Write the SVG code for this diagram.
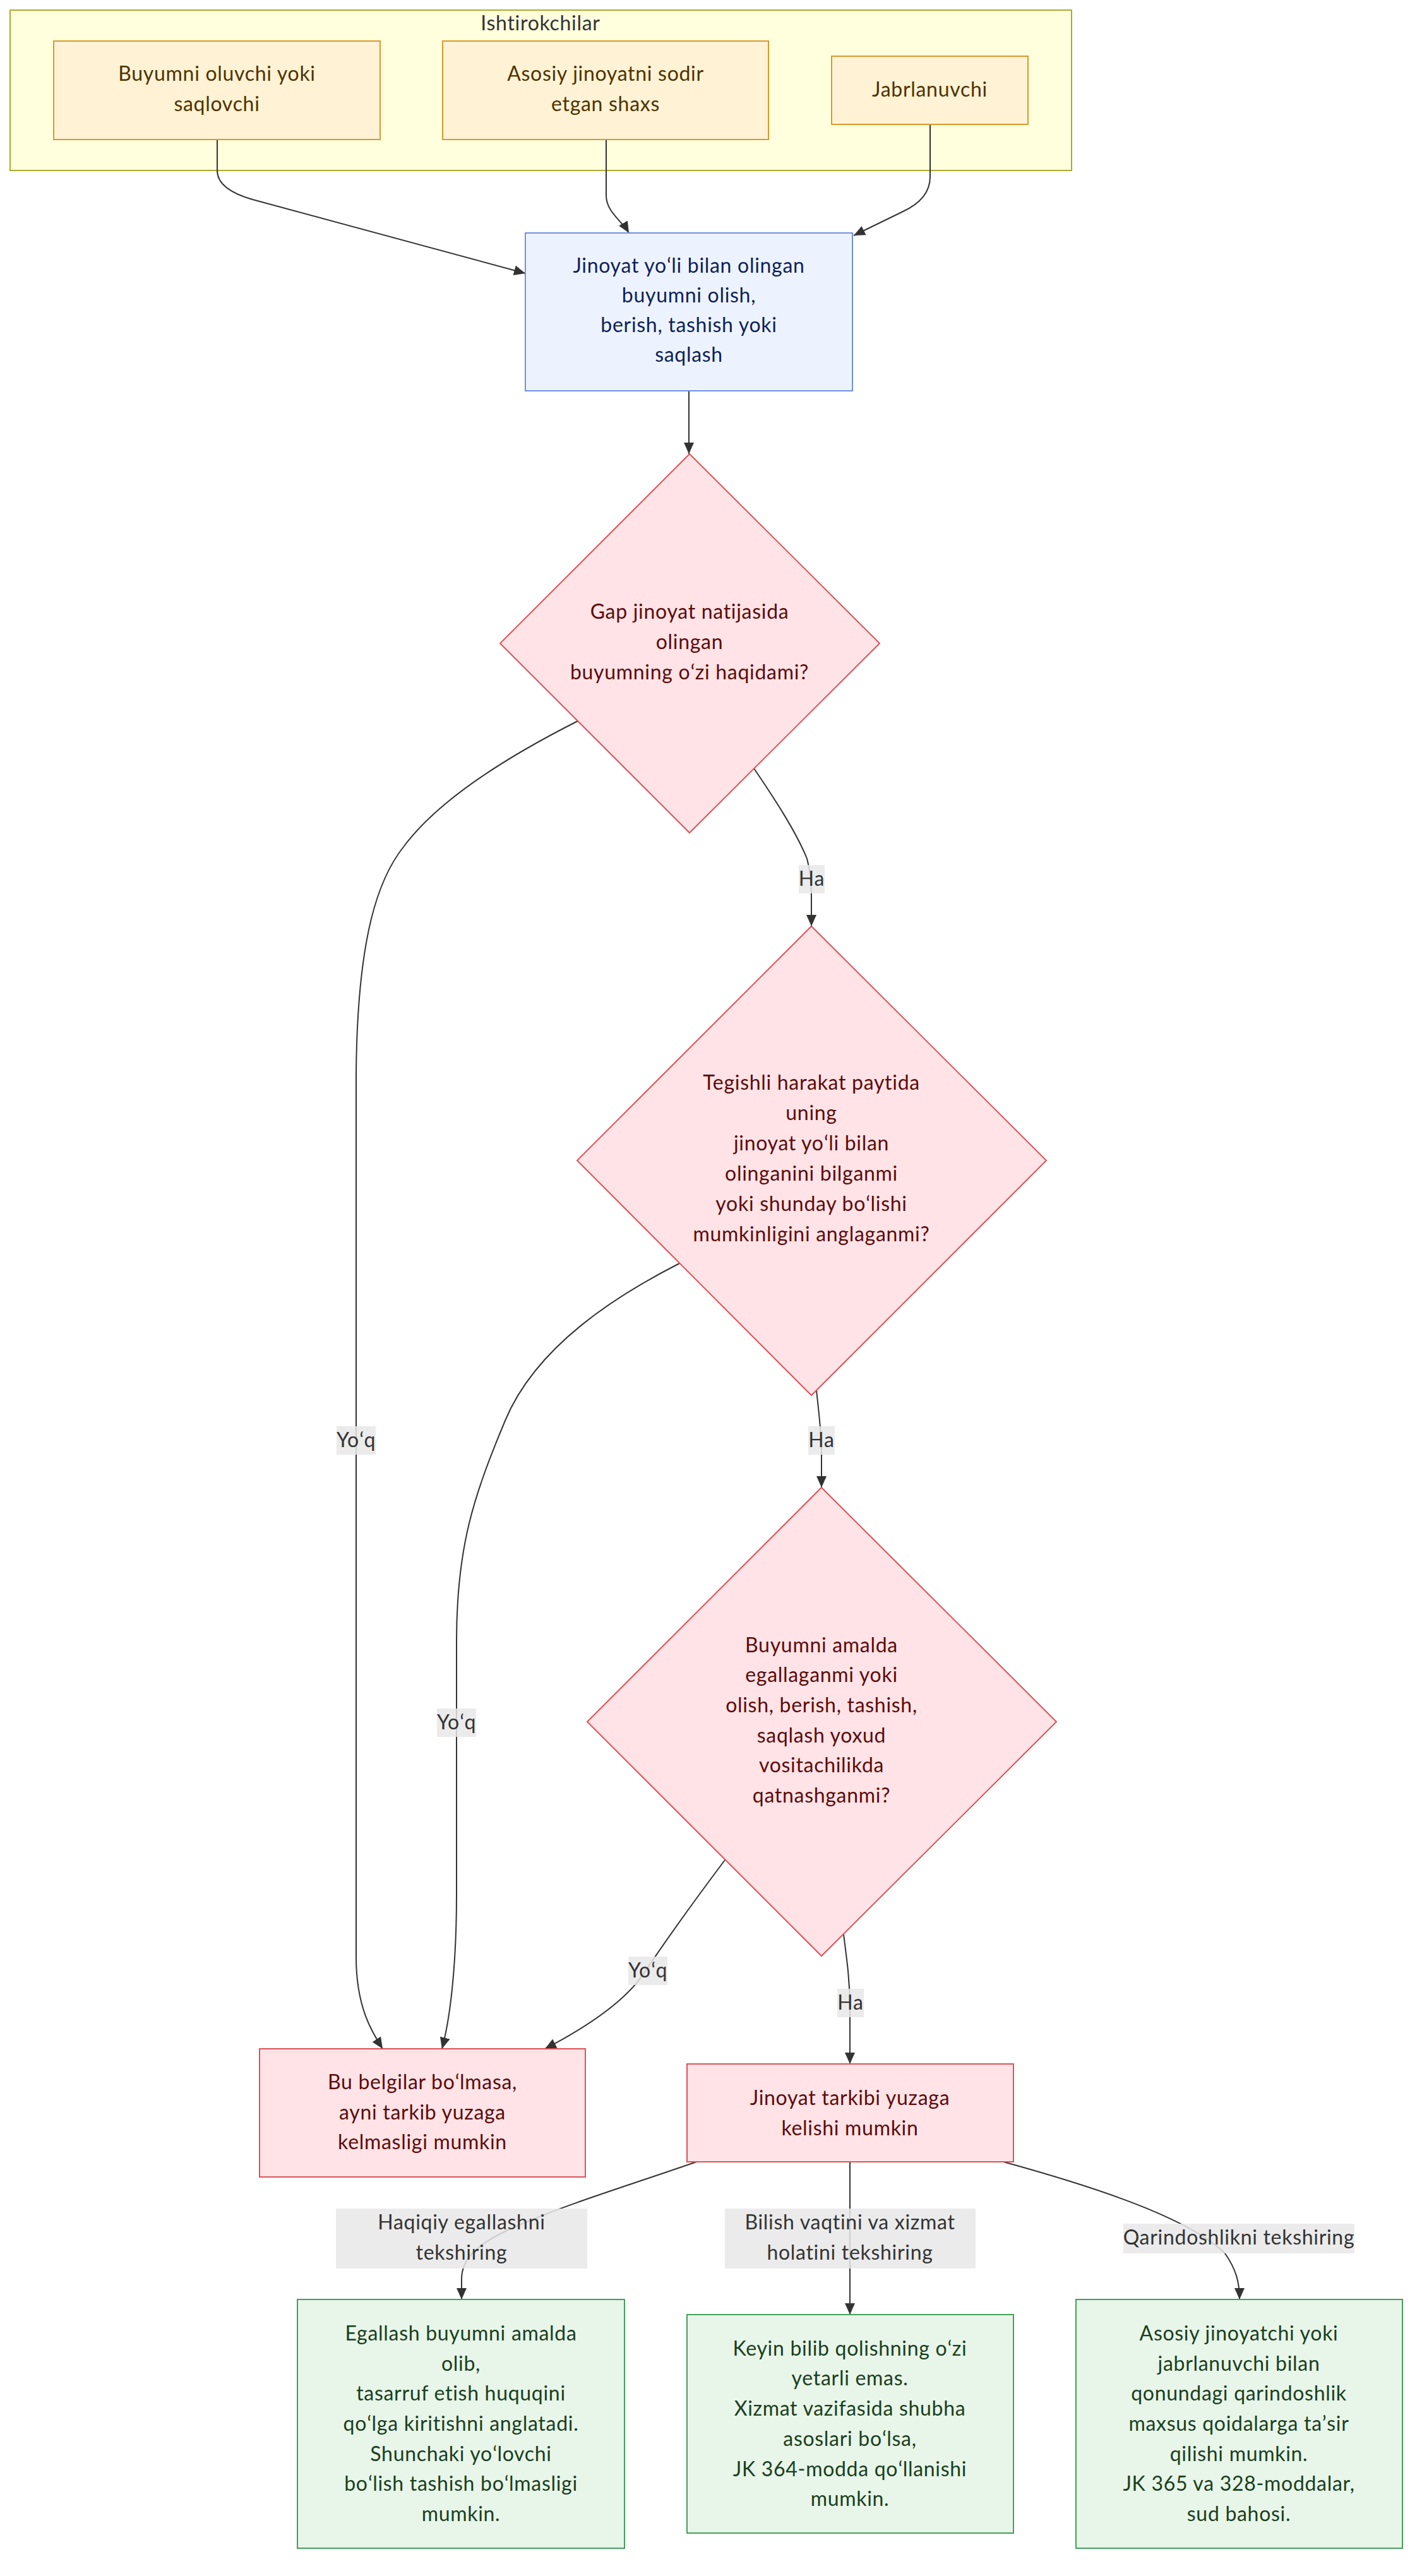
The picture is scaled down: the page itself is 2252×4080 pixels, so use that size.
<svg xmlns="http://www.w3.org/2000/svg" width="2252" height="4080" viewBox="0 0 2252 4080">
<defs>
<marker id="arr" markerUnits="userSpaceOnUse" markerWidth="20" markerHeight="18" refX="18" refY="8" orient="auto">
<path d="M0,0 L18,8 L0,16 z" fill="#333333"/>
</marker>
<style>
text{font-family:Lato,"Open Sans","Liberation Sans",sans-serif;font-size:32px;letter-spacing:0.7px;text-anchor:middle}
.cl{fill:#ffffde;stroke:#aaaa33;stroke-width:2}
.cltxt{fill:#333333}
.p rect{fill:#fff2d5;stroke:#d69a2d;stroke-width:2}
.p text{fill:#4d3300}
.m rect{fill:#edf3fe;stroke:#6f90e0;stroke-width:2}
.m text{fill:#0d1f5c}
.r rect,.r polygon{fill:#ffe3e6;stroke:#dc5358;stroke-width:2}
.r text{fill:#5c0b0b}
.g rect{fill:#e8f5e9;stroke:#44a05a;stroke-width:2}
.g text{fill:#18401d}
.e path{fill:none;stroke:#333333;stroke-width:2;marker-end:url(#arr)}
.lb rect{fill:#e8e8e8;fill-opacity:0.85}
.lb text{fill:#333333}
</style>
</defs>
<rect width="2252" height="4080" fill="#ffffff"/>
<g id="cluster-ishtirokchilar">
<rect class="cl" x="16" y="16" width="1681" height="254"/>
<text class="cltxt" x="856" y="48">Ishtirokchilar</text>
</g>
<g id="connectors" class="e">
<path d="M344,221 L344,270 Q344,300 400,316 L832,433"/>
<path d="M960,221 L960,310 C960,335 985,350 996,369"/>
<path d="M1473,197 L1473,280 Q1473,315 1430,335 L1352,373"/>
<path d="M1091,619 L1091,719"/>
<path d="M1194,1217 C1230,1270 1262,1320 1278,1360 Q1285,1385 1285,1420 L1285,1467"/>
<path d="M915,1142 C820,1190 700,1260 640,1340 C600,1390 566,1480 564,1700 L564,3100 C564,3180 590,3220 606,3245"/>
<path d="M1076,2001 C980,2050 850,2130 800,2250 C750,2370 723,2450 723,2600 L723,3000 C723,3120 712,3200 700,3245"/>
<path d="M1293,2202 C1297,2240 1301,2270 1301,2300 L1301,2356"/>
<path d="M1148,2946 C1100,3010 1050,3080 1020,3125 C990,3170 930,3210 863,3245"/>
<path d="M1336,3064 C1342,3110 1346,3140 1346,3180 L1346,3269"/>
<path d="M1103,3424 C1000,3460 900,3490 820,3525 C750,3555 731,3580 731,3610 L731,3642"/>
<path d="M1346,3424 L1346,3666"/>
<path d="M1589,3424 C1720,3460 1880,3510 1940,3569 C1958,3595 1963,3615 1963,3642"/>
</g>
<g id="edge-labels" class="lb">
<rect x="1265" y="1370" width="41" height="45"/><text x="1285.5" y="1403">Ha</text>
<rect x="1280" y="2259" width="42" height="45"/><text x="1301" y="2292">Ha</text>
<rect x="1326" y="3150" width="42" height="45"/><text x="1347" y="3183">Ha</text>
<rect x="533" y="2259" width="62" height="45"/><text x="564" y="2292">Yoʻq</text>
<rect x="692" y="2706" width="62" height="45"/><text x="723" y="2739">Yoʻq</text>
<rect x="995" y="3099" width="62" height="45"/><text x="1026" y="3132">Yoʻq</text>
<rect x="532" y="3498" width="398" height="95"/><text x="731" y="3531">Haqiqiy egallashni</text><text x="731" y="3579">tekshiring</text>
<rect x="1148" y="3498" width="397" height="95"/><text x="1346" y="3531">Bilish vaqtini va xizmat</text><text x="1346" y="3579">holatini tekshiring</text>
<rect x="1779" y="3522" width="366" height="47"/><text x="1962" y="3555">Qarindoshlikni tekshiring</text>
</g>
<g id="node-oluvchi" class="p">
<rect x="85" y="65" width="517" height="156"/>
<text x="343.5" y="128">Buyumni oluvchi yoki</text>
<text x="343.5" y="176">saqlovchi</text>
</g>
<g id="node-asosiy" class="p">
<rect x="701" y="65" width="516" height="156"/>
<text x="959" y="128">Asosiy jinoyatni sodir</text>
<text x="959" y="176">etgan shaxs</text>
</g>
<g id="node-jabrlanuvchi" class="p">
<rect x="1317" y="89" width="311" height="108"/>
<text x="1472.5" y="153">Jabrlanuvchi</text>
</g>
<g id="node-harakat" class="m">
<rect x="832" y="369" width="518" height="250"/>
<text x="1091" y="432">Jinoyat yoʻli bilan olingan</text>
<text x="1091" y="479">buyumni olish,</text>
<text x="1091" y="526">berish, tashish yoki</text>
<text x="1091" y="573">saqlash</text>
</g>
<g id="node-q1" class="r">
<polygon points="1092,719 1393,1019 1092,1319 792,1019"/>
<text x="1092" y="980">Gap jinoyat natijasida</text>
<text x="1092" y="1028">olingan</text>
<text x="1092" y="1076">buyumning oʻzi haqidami?</text>
</g>
<g id="node-q2" class="r">
<polygon points="1285,1467 1657,1838 1285,2210 914,1838"/>
<text x="1285" y="1726">Tegishli harakat paytida</text>
<text x="1285" y="1774">uning</text>
<text x="1285" y="1822">jinoyat yoʻli bilan</text>
<text x="1285" y="1870">olinganini bilganmi</text>
<text x="1285" y="1918">yoki shunday boʻlishi</text>
<text x="1285" y="1966">mumkinligini anglaganmi?</text>
</g>
<g id="node-q3" class="r">
<polygon points="1301,2356 1673,2727 1301,3098 930,2727"/>
<text x="1301" y="2617">Buyumni amalda</text>
<text x="1301" y="2664">egallaganmi yoki</text>
<text x="1301" y="2712">olish, berish, tashish,</text>
<text x="1301" y="2760">saqlash yoxud</text>
<text x="1301" y="2807">vositachilikda</text>
<text x="1301" y="2855">qatnashganmi?</text>
</g>
<g id="node-yoq" class="r">
<rect x="411" y="3245" width="516" height="203"/>
<text x="669" y="3309">Bu belgilar boʻlmasa,</text>
<text x="669" y="3357">ayni tarkib yuzaga</text>
<text x="669" y="3404">kelmasligi mumkin</text>
</g>
<g id="node-tarkib" class="r">
<rect x="1088" y="3269" width="517" height="155"/>
<text x="1346" y="3334">Jinoyat tarkibi yuzaga</text>
<text x="1346" y="3382">kelishi mumkin</text>
</g>
<g id="node-egallash" class="g">
<rect x="471" y="3642" width="518" height="394"/>
<text x="730" y="3707">Egallash buyumni amalda</text>
<text x="730" y="3755">olib,</text>
<text x="730" y="3802">tasarruf etish huquqini</text>
<text x="730" y="3850">qoʻlga kiritishni anglatadi.</text>
<text x="730" y="3898">Shunchaki yoʻlovchi</text>
<text x="730" y="3945">boʻlish tashish boʻlmasligi</text>
<text x="730" y="3993">mumkin.</text>
</g>
<g id="node-bilish" class="g">
<rect x="1088" y="3666" width="517" height="346"/>
<text x="1346" y="3731">Keyin bilib qolishning oʻzi</text>
<text x="1346" y="3778">yetarli emas.</text>
<text x="1346" y="3826">Xizmat vazifasida shubha</text>
<text x="1346" y="3874">asoslari boʻlsa,</text>
<text x="1346" y="3922">JK 364-modda qoʻllanishi</text>
<text x="1346" y="3969">mumkin.</text>
</g>
<g id="node-qarindosh" class="g">
<rect x="1704" y="3642" width="517" height="394"/>
<text x="1962" y="3707">Asosiy jinoyatchi yoki</text>
<text x="1962" y="3755">jabrlanuvchi bilan</text>
<text x="1962" y="3802">qonundagi qarindoshlik</text>
<text x="1962" y="3850">maxsus qoidalarga taʼsir</text>
<text x="1962" y="3898">qilishi mumkin.</text>
<text x="1962" y="3945">JK 365 va 328-moddalar,</text>
<text x="1962" y="3993">sud bahosi.</text>
</g>
</svg>
